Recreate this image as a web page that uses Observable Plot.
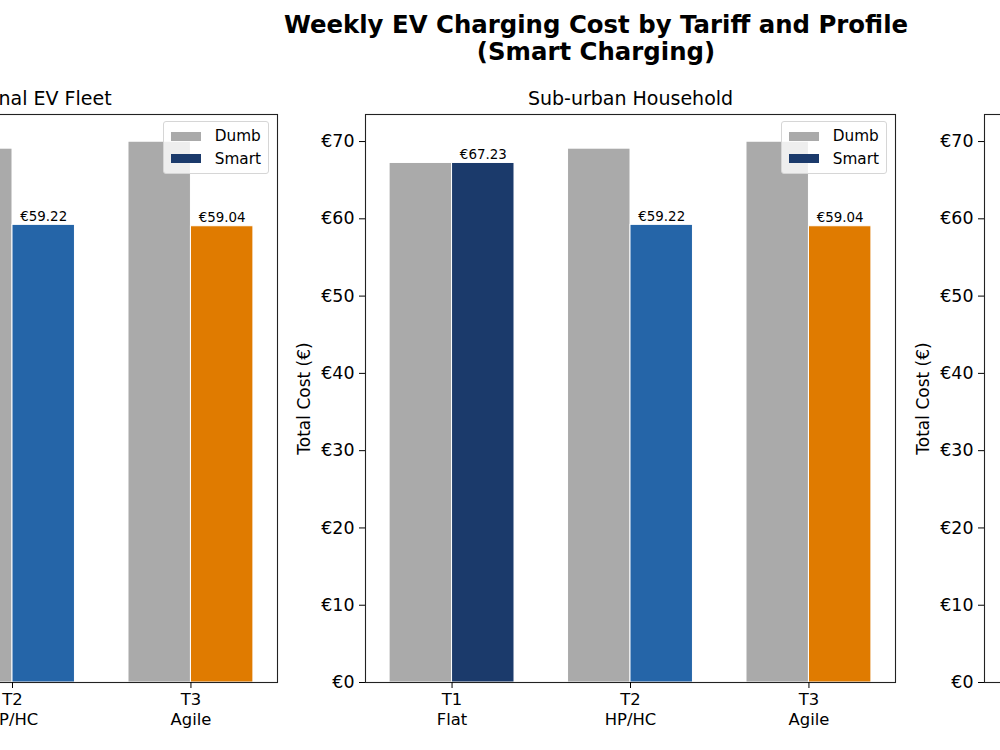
<!DOCTYPE html>
<html>
<head>
<meta charset="utf-8">
<script src="https://cdn.jsdelivr.net/npm/d3@7"></script>
<script src="https://cdn.jsdelivr.net/npm/@observablehq/plot@0.6"></script>
<style>
  html, body { margin: 0; padding: 0; background: #fff; }
  #fig { position: relative; width: 1000px; height: 750px; overflow: hidden; font-family: "DejaVu Sans", sans-serif; }
  #suptitle { position: absolute; top: 11px; left: 246px; width: 700px; text-align: center;
              font-weight: bold; font-size: 24.4px; line-height: 27px; color: #000; white-space: nowrap; }
  .panel { position: absolute; top: 0; width: 620px; height: 750px; }
  .panel svg { max-width: none !important; }
  .panel svg [aria-label="y-axis tick label"] { font-size: 17.4px; }
  .panel svg [aria-label="y-axis label"] { font-size: 17px; }
  .legend { position: absolute; background: rgba(255,255,255,0.8); border: 1px solid #d6d6d6; border-radius: 3px;
            padding: 3px 7px 3px 7px; font-size: 15.3px; color: #000; }
  .legend .row { display: flex; align-items: center; height: 22.5px; }
  .legend .sw { width: 30px; height: 9px; margin-right: 14px; }
</style>
</head>
<body>
<div id="fig">
  <div id="suptitle">Weekly EV Charging Cost by Tariff and Profile<br>(Smart Charging)</div>
</div>
<script>
// Tariffs on the x axis
const tariffs = ["T1", "T2", "T3"];
const tariffNames = ["Flat", "HP/HC", "Agile"];

// One panel per charging profile
const profiles = ["Professional EV Fleet", "Sub-urban Household", "Urban Apartment"];

// Weekly cost (€) per profile, one value per tariff
const dumbCost = [
  [67.23, 69.08, 69.98],
  [67.23, 69.08, 69.98],
  [67.23, 69.08, 69.98]
];
const smartCost = [
  [67.23, 59.22, 59.04],
  [67.23, 59.22, 59.04],
  [67.23, 59.22, 59.04]
];

// Series styling
const dumbColor = "#aaaaaa";
const smartColors = ["#1b3a6b", "#2565a8", "#e07b00"];
const yTicks = [0, 10, 20, 30, 40, 50, 60, 70];

const barW = 0.35;
const panelW = 620, mL = 70, mR = 20, mT = 114, mB = 68;
const panelLeft = [-323, 295, 914];

const fig = document.getElementById("fig");

profiles.forEach((profile, p) => {
  const rows = tariffs.map((t, i) => ({
    i, tariff: t, name: tariffNames[i],
    dumb: dumbCost[p][i], smart: smartCost[p][i], color: smartColors[i]
  }));

  const chart = Plot.plot({
    width: panelW, height: 750,
    marginLeft: mL, marginRight: mR, marginTop: mT, marginBottom: mB,
    style: { fontFamily: "DejaVu Sans, sans-serif", fontSize: "16px", color: "#000", background: "transparent" },
    x: { type: "linear", domain: [-0.485, 2.485] },
    y: { domain: [0, 73.5] },
    marks: [
      // Dumb charging (left bar of each pair)
      Plot.rectY(rows, { x1: d => d.i - barW, x2: d => d.i, y1: 0, y2: "dumb",
        fill: dumbColor, stroke: "#fff", strokeWidth: 1, inset: 0 }),
      // Smart charging (right bar of each pair)
      Plot.rectY(rows, { x1: d => d.i, x2: d => d.i + barW, y1: 0, y2: "smart",
        fill: "color", stroke: "#fff", strokeWidth: 1, inset: 0 }),
      // Smart cost labels
      Plot.text(rows, { x: d => d.i + barW / 2, y: "smart", text: d => "€" + d.smart.toFixed(2),
        lineAnchor: "bottom", dy: -4, fontSize: 13.4, fill: "#000" }),
      Plot.frame({ stroke: "#222", strokeWidth: 1.1 }),
      Plot.axisY({ ticks: yTicks, tickFormat: d => "€" + d, tickSize: 6, tickPadding: 5,
        label: "Total Cost (€)", labelAnchor: "center", labelArrow: "none", labelOffset: 68 }),
      Plot.axisX({ ticks: [0, 1, 2], tickFormat: i => tariffs[i] + "\n" + tariffNames[i],
        tickSize: 6, tickPadding: 3, lineHeight: 1.2, fontSize: 16.4, label: null }),
      // Panel title
      Plot.text([profile], { frameAnchor: "top", dy: -10, lineAnchor: "bottom", fontSize: 19, text: d => d, fill: "#000" })
    ]
  });

  const wrap = document.createElement("div");
  wrap.className = "panel";
  wrap.style.left = panelLeft[p] + "px";
  wrap.appendChild(chart);

  // Legend box in the upper-right corner of the axes
  const leg = document.createElement("div");
  leg.className = "legend";
  leg.style.right = (mR + 8) + "px";
  leg.style.top = (mT + 7) + "px";
  [["Dumb", dumbColor], ["Smart", smartColors[0]]].forEach(([label, c]) => {
    const r = document.createElement("div");
    r.className = "row";
    r.innerHTML = `<span class="sw" style="background:${c}"></span><span>${label}</span>`;
    leg.appendChild(r);
  });
  wrap.appendChild(leg);
  fig.appendChild(wrap);
});
</script>
</body>
</html>
